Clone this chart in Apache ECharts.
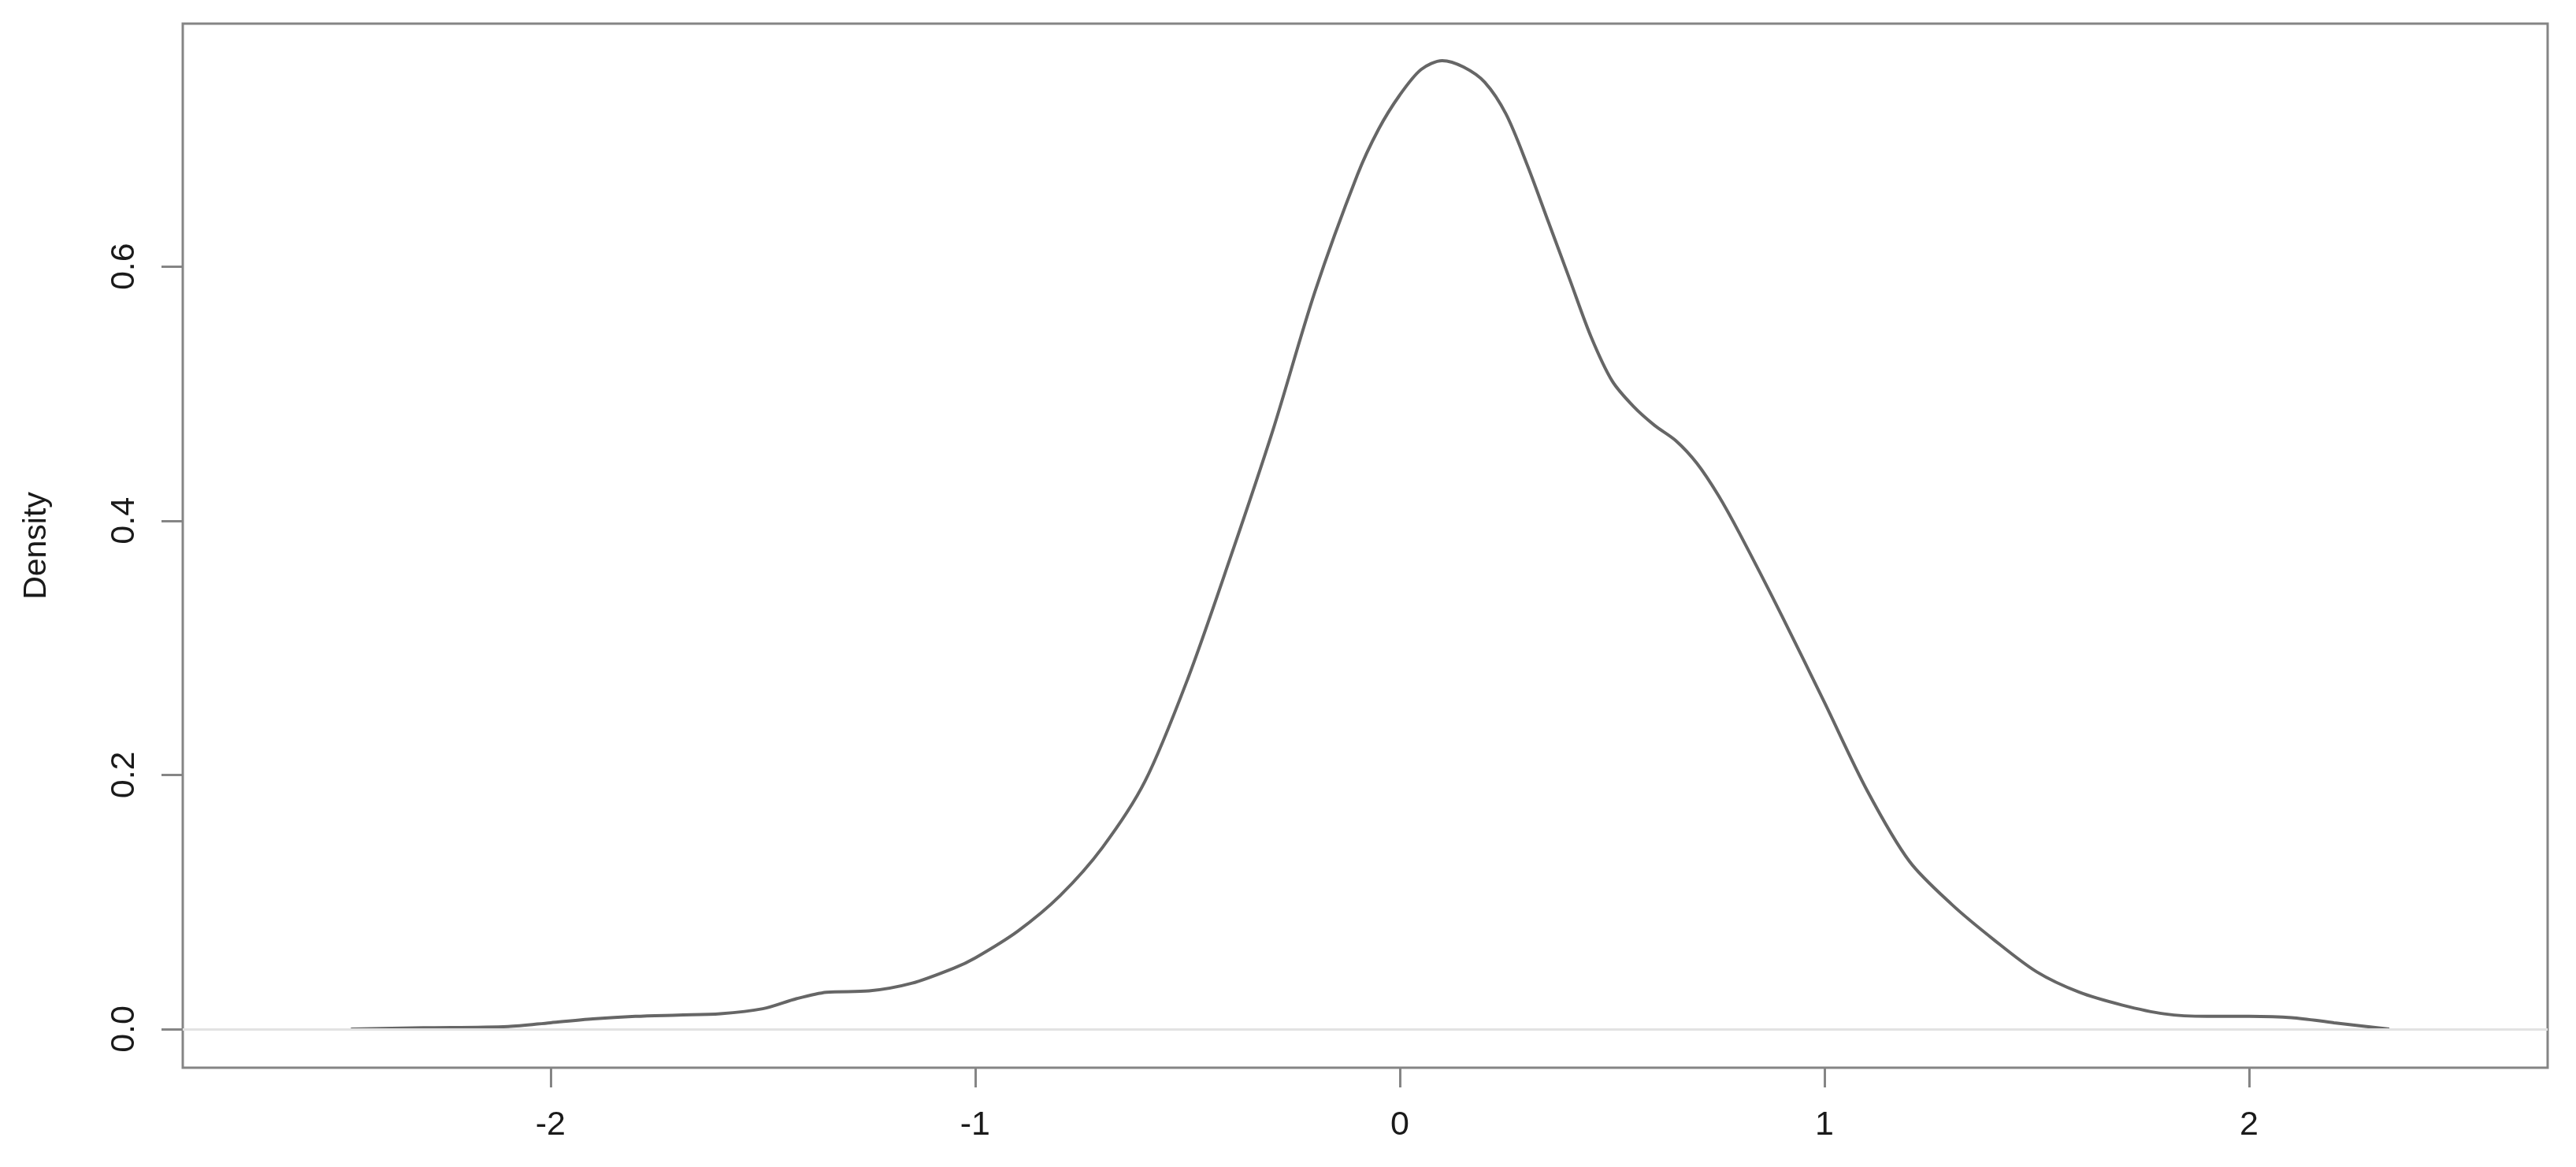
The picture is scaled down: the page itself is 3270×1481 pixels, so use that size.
<!DOCTYPE html>
<html>
<head>
<meta charset="utf-8">
<script src="https://cdn.jsdelivr.net/npm/echarts@6/dist/echarts.min.js"></script>
<style>
html,body{margin:0;padding:0;background:#fff;}
#chart{width:3270px;height:1481px;}
</style>
</head>
<body>
<div id="chart"></div>
<script>
// Density curve
const xs = [-2.47,-2.30,-2.10,-2.00,-1.90,-1.80,-1.70,-1.60,-1.50,-1.42,-1.35,-1.25,-1.15,-1.05,-1.00,-0.90,-0.80,-0.70,-0.60,-0.50,-0.40,-0.30,-0.20,-0.10,-0.05,0.00,0.05,0.10,0.15,0.20,0.25,0.30,0.35,0.40,0.45,0.50,0.55,0.60,0.65,0.70,0.75,0.80,0.90,1.00,1.10,1.20,1.30,1.40,1.50,1.60,1.70,1.80,1.90,2.00,2.10,2.20,2.33];
const density = [0.000,0.001,0.002,0.005,0.008,0.010,0.011,0.012,0.016,0.024,0.029,0.030,0.036,0.048,0.056,0.077,0.105,0.143,0.195,0.275,0.370,0.470,0.580,0.672,0.708,0.735,0.755,0.762,0.757,0.745,0.720,0.680,0.635,0.590,0.545,0.510,0.490,0.475,0.463,0.445,0.420,0.390,0.325,0.257,0.188,0.132,0.098,0.070,0.045,0.029,0.019,0.012,0.010,0.010,0.009,0.005,0.000];
const xTicks = [-2,-1,0,1,2];
const yTicks = [0,0.2,0.4,0.6];
const yName = 'Density';

const curve = xs.map((x,i)=>[x,density[i]]);
const chart = echarts.init(document.getElementById('chart'), null, {renderer:'canvas'});
const font = 'Liberation Sans, Arial, sans-serif';
chart.setOption({
  animation:false,
  backgroundColor:'#fff',
  grid:{left:232,right:36,top:30,bottom:126,show:true,borderColor:'#858585',borderWidth:3,backgroundColor:'transparent'},
  xAxis:{
    type:'value', min:-2.866, max:2.703,
    axisLine:{show:false,onZero:false},
    splitLine:{show:false},
    axisTick:{show:true,length:25,lineStyle:{color:'#858585',width:3},customValues:xTicks},
    axisLabel:{customValues:xTicks,fontFamily:font,fontSize:43,color:'#1a1a1a',margin:52,formatter:v=>String(v)}
  },
  yAxis:{
    type:'value', min:-0.0304, max:0.7911,
    name:yName, nameLocation:'middle', nameGap:165, nameRotate:90,
    nameTextStyle:{fontFamily:font,fontSize:41,color:'#1a1a1a'},
    axisLine:{show:false,onZero:false},
    splitLine:{show:false},
    axisTick:{show:true,length:27,lineStyle:{color:'#858585',width:3},customValues:yTicks},
    axisLabel:{customValues:yTicks,rotate:90,fontFamily:font,fontSize:43,color:'#1a1a1a',margin:52,formatter:v=>v.toFixed(1)}
  },
  series:[{
    type:'line', data:curve, smooth:0.3, showSymbol:false,
    lineStyle:{color:'#666666',width:4},
    markLine:{silent:true,symbol:'none',label:{show:false},lineStyle:{color:'#e2e2e2',width:3,type:'solid'},data:[{yAxis:0}]},
    z:3
  }]
});
</script>
</body>
</html>
